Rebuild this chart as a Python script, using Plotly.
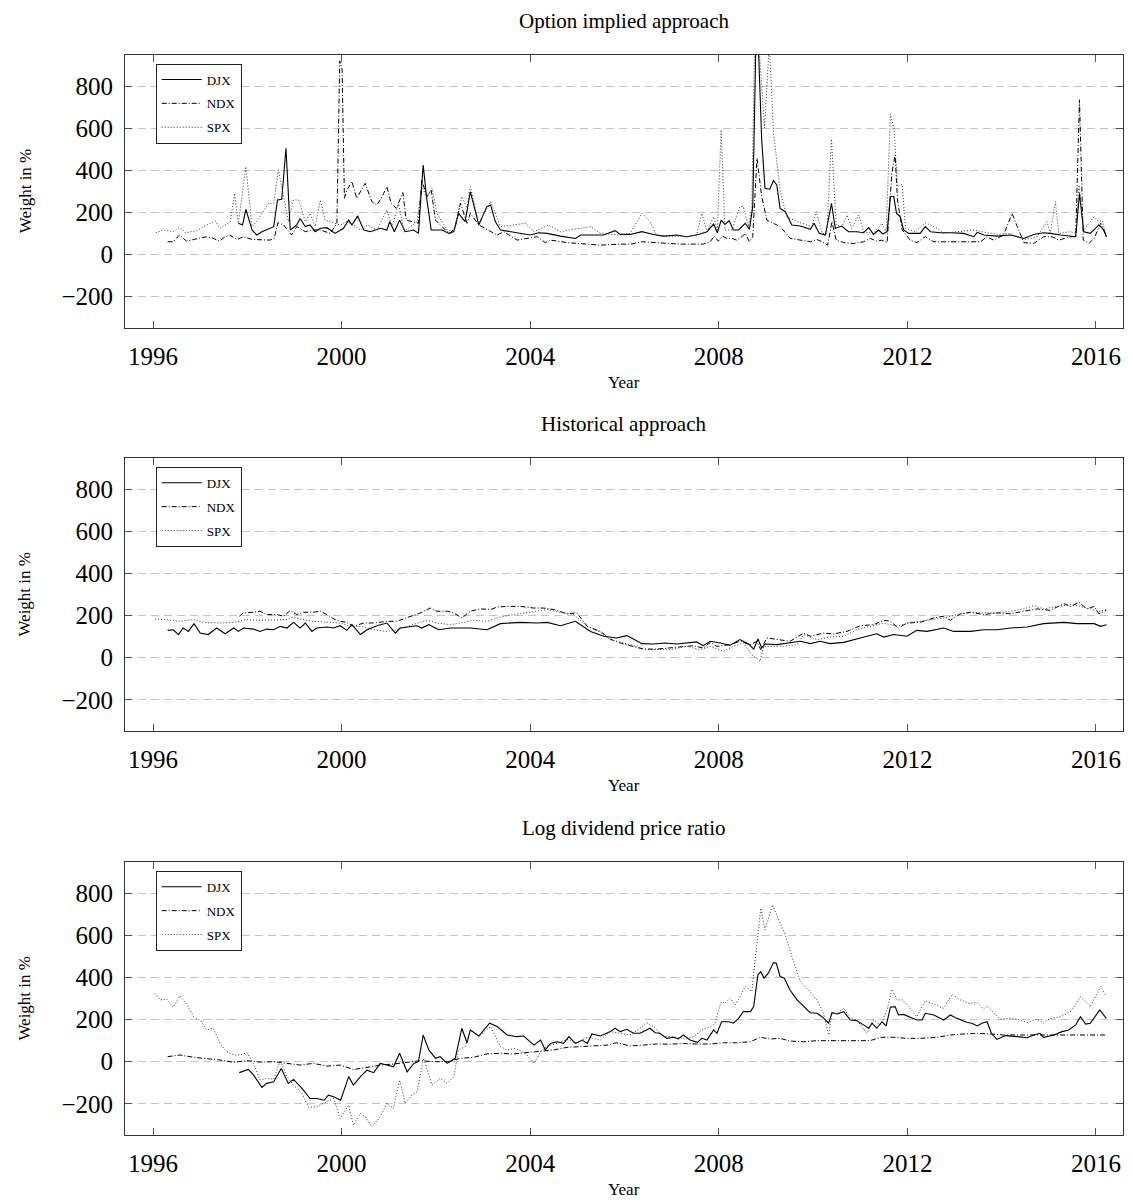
import plotly.graph_objects as go

# ---------------- DATA ----------------
YEAR_TICKS = [1996, 2000, 2004, 2008, 2012, 2016]
WEIGHT_TICKS = [-200, 0, 200, 400, 600, 800]
PANEL_TITLES = ["Option implied approach", "Historical approach", "Log dividend price ratio"]
SERIES_NAMES = ["DJX", "NDX", "SPX"]

# Option implied approach
OI_DJX_YEAR = [1997.81,1997.90,1997.97,1998.10,1998.20,1998.31,1998.56,1998.64,1998.73,1998.82,
    1998.91,1999.05,1999.12,1999.23,1999.33,1999.44,1999.55,1999.69,1999.86,2000.04,
    2000.15,2000.22,2000.34,2000.47,2000.61,2000.82,2000.96,2001.02,2001.12,2001.23,
    2001.35,2001.53,2001.63,2001.73,2001.80,2001.90,2002.13,2002.27,2002.38,2002.48,
    2002.62,2002.73,2002.91,2003.08,2003.16,2003.26,2003.37,2003.58,2003.79,2004.00,
    2004.18,2004.36,2004.64,2004.96,2005.07,2005.35,2005.56,2005.80,2005.91,2006.12,
    2006.37,2006.61,2006.83,2007.11,2007.32,2007.57,2007.75,2007.89,2007.97,2008.05,
    2008.13,2008.22,2008.31,2008.42,2008.56,2008.65,2008.72,2008.79,2008.83,2008.91,
    2008.98,2009.08,2009.16,2009.23,2009.30,2009.41,2009.55,2009.73,2009.94,2010.02,
    2010.13,2010.26,2010.39,2010.47,2010.61,2010.75,2010.93,2011.07,2011.18,2011.28,
    2011.39,2011.48,2011.57,2011.64,2011.71,2011.77,2011.85,2011.92,2012.03,2012.27,
    2012.38,2012.49,2012.70,2012.91,2013.19,2013.41,2013.48,2013.62,2013.90,2014.19,
    2014.47,2014.68,2014.89,2015.03,2015.25,2015.57,2015.65,2015.74,2015.88,2016.06,
    2016.17,2016.22]
OI_DJX_VAL = [148,140,214,116,92,108,132,259,262,505,
    116,140,171,132,140,108,124,127,100,124,
    163,140,183,116,108,124,116,156,108,163,
    108,116,100,425,275,116,116,100,108,195,
    156,298,140,227,235,156,116,108,100,92,
    103,100,87,76,92,92,92,113,95,95,
    108,95,87,92,84,95,108,144,103,163,
    143,160,116,116,148,119,227,1050,1050,544,
    314,310,351,330,219,203,140,135,119,148,
    100,92,243,124,135,108,108,103,127,95,
    116,97,108,275,275,195,179,116,100,100,
    132,108,103,103,100,84,105,92,87,92,
    76,95,103,100,92,84,290,108,100,140,
    116,84]

OI_NDX_YEAR = [1996.31,1996.43,1996.56,1996.71,1996.86,1997.00,1997.14,1997.25,1997.41,1997.53,
    1997.63,1997.78,1997.92,1998.10,1998.31,1998.48,1998.57,1998.65,1998.77,1998.94,
    1999.05,1999.23,1999.40,1999.55,1999.76,1999.90,1999.96,2000.01,2000.06,2000.11,
    2000.22,2000.32,2000.50,2000.64,2000.75,2000.86,2000.96,2001.05,2001.16,2001.30,
    2001.37,2001.53,2001.63,2001.70,2001.81,2001.90,2001.99,2002.20,2002.31,2002.41,
    2002.52,2002.66,2002.73,2002.91,2003.30,2003.44,2003.72,2003.93,2004.15,2004.32,
    2004.43,2004.78,2005.21,2005.49,2005.91,2006.12,2006.37,2006.61,2006.90,2007.18,
    2007.46,2007.67,2007.82,2007.90,2007.99,2008.08,2008.17,2008.28,2008.38,2008.49,
    2008.56,2008.65,2008.72,2008.81,2008.91,2009.02,2009.16,2009.30,2009.52,2009.73,
    2009.94,2010.08,2010.19,2010.31,2010.40,2010.49,2010.65,2010.86,2011.07,2011.21,
    2011.35,2011.46,2011.57,2011.67,2011.74,2011.79,2011.89,2012.06,2012.20,2012.38,
    2012.56,2012.77,2013.05,2013.34,2013.55,2013.69,2013.83,2014.04,2014.22,2014.33,
    2014.47,2014.68,2014.89,2015.07,2015.21,2015.46,2015.57,2015.65,2015.73,2015.85,
    2015.96,2016.10,2016.22]
OI_NDX_VAL = [60,60,92,63,71,76,84,79,63,84,
    92,71,84,71,68,68,76,151,140,92,
    132,108,116,116,100,148,920,880,267,306,
    346,267,338,251,235,275,322,243,219,294,
    163,156,148,354,275,306,163,116,100,132,
    243,148,195,140,92,108,68,76,84,56,
    68,56,49,44,49,48,60,57,52,49,
    49,49,60,87,63,87,76,76,68,84,
    100,60,84,457,275,163,148,132,76,68,
    60,71,60,44,156,68,56,52,60,76,
    63,68,56,386,473,259,116,68,56,84,
    60,60,60,63,60,84,68,92,195,132,
    56,52,84,84,68,84,84,735,68,52,
    76,148,84]

OI_SPX_YEAR = [1996.06,1996.22,1996.43,1996.57,1996.68,1996.93,1997.07,1997.32,1997.42,1997.64,
    1997.73,1997.81,1997.97,1998.10,1998.20,1998.31,1998.45,1998.56,1998.66,1998.77,
    1998.87,1998.98,1999.09,1999.23,1999.33,1999.44,1999.55,1999.65,1999.83,1999.97,
    2000.11,2000.25,2000.40,2000.54,2000.75,2000.96,2001.07,2001.21,2001.32,2001.46,
    2001.60,2001.70,2001.81,2001.92,2002.02,2002.24,2002.38,2002.55,2002.66,2002.73,
    2002.91,2003.16,2003.37,2003.65,2003.90,2004.08,2004.39,2004.64,2004.82,2005.28,
    2005.49,2005.91,2006.12,2006.37,2006.54,2006.68,2006.90,2007.11,2007.32,2007.53,
    2007.64,2007.75,2007.89,2007.97,2008.05,2008.13,2008.28,2008.45,2008.52,2008.63,
    2008.70,2008.76,2008.85,2008.97,2009.07,2009.16,2009.30,2009.44,2009.66,2009.87,
    2009.97,2010.07,2010.19,2010.29,2010.39,2010.49,2010.61,2010.72,2010.82,2010.97,
    2011.07,2011.28,2011.46,2011.55,2011.64,2011.72,2011.79,2011.89,2011.96,2012.17,
    2012.38,2012.63,2012.77,2013.05,2013.41,2013.69,2013.97,2014.19,2014.47,2014.75,
    2014.96,2015.03,2015.14,2015.21,2015.46,2015.57,2015.64,2015.74,2015.96,2016.06,
    2016.13,2016.22]
OI_SPX_VAL = [103,116,108,129,103,113,132,159,124,156,
    290,148,417,132,156,195,243,243,402,275,
    156,259,259,156,195,132,259,163,148,140,
    156,140,116,140,116,211,132,243,108,132,
    156,322,275,314,195,116,108,275,219,322,
    148,251,132,140,148,108,140,108,116,132,
    100,92,100,195,156,92,84,84,84,92,
    195,108,179,116,592,116,116,227,227,132,
    227,1000,1000,600,1000,580,306,179,156,140,
    132,203,100,100,548,140,132,187,124,187,
    108,100,148,108,668,592,322,333,124,108,
    151,124,100,108,116,103,95,100,68,84,
    156,100,251,100,108,100,330,116,179,156,
    163,84]

# Historical approach
H_DJX_YEAR = [1996.31,1996.43,1996.54,1996.64,1996.75,1996.87,1997.00,1997.17,1997.35,1997.53,
    1997.71,1997.81,1997.92,1998.13,1998.27,1998.41,1998.56,1998.70,1998.84,1998.98,
    1999.12,1999.23,1999.37,1999.47,1999.69,1999.83,1999.97,2000.11,2000.22,2000.40,
    2000.54,2000.75,2000.96,2001.14,2001.24,2001.46,2001.60,2001.70,2001.85,2002.06,
    2002.31,2002.73,2003.08,2003.37,2003.79,2004.15,2004.36,2004.64,2004.96,2005.28,
    2005.56,2005.83,2006.05,2006.19,2006.37,2006.61,2006.86,2007.11,2007.32,2007.53,
    2007.67,2007.82,2008.03,2008.24,2008.45,2008.63,2008.74,2008.83,2008.91,2008.98,
    2009.23,2009.51,2009.73,2009.94,2010.15,2010.36,2010.65,2011.00,2011.35,2011.50,
    2011.71,2011.99,2012.20,2012.42,2012.77,2012.98,2013.34,2013.62,2013.90,2014.19,
    2014.54,2014.89,2015.32,2015.60,2015.96,2016.10,2016.22]
H_DJX_VAL = [130,133,110,141,125,162,117,110,141,114,
    141,125,141,136,125,136,133,149,141,168,
    141,165,125,141,146,141,152,130,157,110,
    133,152,165,117,141,146,152,141,157,133,
    141,141,133,162,168,165,168,152,173,125,
    102,94,105,89,67,65,70,65,70,75,
    57,78,70,59,86,65,41,89,46,65,
    62,70,78,67,78,67,73,94,114,98,
    110,102,130,125,141,125,125,133,133,141,
    146,162,168,162,162,149,157]

H_NDX_YEAR = [1997.83,1997.92,1998.13,1998.27,1998.41,1998.63,1998.77,1998.91,1999.05,1999.19,
    1999.40,1999.55,1999.69,1999.86,1999.97,2000.11,2000.25,2000.47,2000.68,2000.96,
    2001.17,2001.39,2001.67,2001.88,2002.02,2002.24,2002.38,2002.55,2002.73,2002.94,
    2003.16,2003.30,2003.51,2003.79,2004.08,2004.29,2004.50,2004.78,2004.99,2005.21,
    2005.49,2005.69,2005.91,2006.12,2006.40,2006.68,2006.97,2007.18,2007.46,2007.67,
    2007.82,2007.96,2008.24,2008.45,2008.67,2008.81,2008.89,2009.02,2009.23,2009.51,
    2009.80,2009.94,2010.22,2010.43,2010.72,2011.00,2011.28,2011.50,2011.64,2011.81,
    2011.99,2012.27,2012.56,2012.77,2012.91,2013.12,2013.34,2013.62,2013.90,2014.19,
    2014.47,2014.75,2015.03,2015.32,2015.46,2015.64,2015.81,2015.96,2016.06,2016.22]
H_NDX_VAL = [197,213,216,221,205,205,197,225,205,216,
    216,221,205,181,173,168,149,165,165,173,
    173,192,213,236,221,221,213,189,221,232,
    229,241,244,244,236,236,229,209,213,149,
    125,89,70,57,41,41,46,51,57,46,
    73,54,62,78,62,78,38,94,86,78,
    117,102,117,113,125,152,157,178,173,141,
    165,168,189,197,178,208,216,205,213,209,
    221,232,225,257,244,263,232,244,209,225]

H_SPX_YEAR = [1996.04,1996.29,1996.57,1996.86,1997.07,1997.42,1997.71,1997.99,1998.27,1998.56,
    1998.84,1998.98,1999.12,1999.40,1999.69,1999.97,2000.18,2000.40,2000.68,2000.96,
    2001.17,2001.53,2001.81,2002.02,2002.31,2002.59,2002.80,2003.08,2003.30,2003.51,
    2003.79,2004.08,2004.36,2004.64,2004.92,2005.21,2005.49,2005.69,2005.98,2006.26,
    2006.47,2006.75,2007.04,2007.32,2007.60,2007.82,2008.10,2008.31,2008.52,2008.70,
    2008.88,2008.95,2009.09,2009.37,2009.66,2009.80,2010.08,2010.36,2010.65,2010.93,
    2011.21,2011.50,2011.78,2012.06,2012.42,2012.77,2013.05,2013.34,2013.62,2013.90,
    2014.19,2014.47,2014.68,2014.89,2015.18,2015.46,2015.67,2015.88,2016.06,2016.22]
H_SPX_VAL = [184,181,173,181,168,165,168,181,178,178,
    181,194,184,173,168,165,149,149,133,125,
    133,157,178,165,157,168,178,173,189,200,
    209,221,229,216,205,149,121,86,70,54,
    38,38,41,54,38,54,30,54,70,14,
    -17,54,54,54,62,110,86,98,102,133,
    149,165,149,168,178,189,205,216,213,213,
    221,232,248,232,244,252,244,232,221,229]

# Log dividend price ratio
L_DJX_YEAR = [1997.83,1998.02,1998.13,1998.31,1998.41,1998.56,1998.72,1998.87,1998.98,1999.16,
    1999.33,1999.47,1999.63,1999.72,1999.83,1999.98,2000.15,2000.25,2000.40,2000.54,
    2000.68,2000.82,2000.96,2001.10,2001.23,2001.39,2001.53,2001.63,2001.73,2001.85,
    2001.99,2002.09,2002.24,2002.41,2002.55,2002.66,2002.73,2002.91,2003.14,2003.30,
    2003.51,2003.72,2003.86,2004.08,2004.22,2004.32,2004.43,2004.57,2004.71,2004.82,
    2004.96,2005.10,2005.21,2005.31,2005.49,2005.70,2005.80,2005.91,2006.05,2006.19,
    2006.33,2006.54,2006.65,2006.75,2006.90,2007.04,2007.14,2007.25,2007.39,2007.55,
    2007.64,2007.75,2007.89,2007.96,2008.06,2008.21,2008.31,2008.42,2008.52,2008.67,
    2008.74,2008.83,2008.89,2008.96,2009.05,2009.16,2009.22,2009.30,2009.39,2009.51,
    2009.66,2009.80,2009.94,2010.08,2010.19,2010.33,2010.40,2010.51,2010.65,2010.79,
    2010.93,2011.07,2011.18,2011.25,2011.35,2011.46,2011.55,2011.64,2011.74,2011.81,
    2011.92,2012.06,2012.20,2012.31,2012.38,2012.56,2012.77,2012.91,2013.05,2013.27,
    2013.37,2013.48,2013.58,2013.69,2013.78,2013.90,2014.08,2014.33,2014.54,2014.68,
    2014.81,2014.89,2015.11,2015.28,2015.42,2015.57,2015.67,2015.78,2015.88,2016.08,
    2016.22]
L_DJX_VAL = [-52,-37,-63,-122,-103,-95,-32,-103,-84,-127,
    -175,-175,-183,-159,-167,-183,-71,-111,-71,-40,
    -52,-8,-16,-24,40,-48,-8,0,127,56,
    16,24,-8,16,159,90,151,122,183,167,
    127,119,122,79,103,56,87,95,87,119,
    87,103,87,132,122,143,159,143,154,135,
    135,159,138,135,111,116,108,127,103,92,
    111,103,151,135,190,190,183,206,238,238,
    262,413,428,397,421,471,468,405,397,341,
    294,262,233,230,214,183,233,227,238,198,
    195,175,159,183,159,190,170,259,262,222,
    225,211,198,198,230,222,198,222,206,186,
    183,170,183,190,135,106,124,119,114,127,
    135,116,127,143,151,175,214,179,183,246,
    206]

L_NDX_YEAR = [1996.31,1996.57,1996.86,1997.14,1997.42,1997.71,1997.99,1998.27,1998.56,1998.84,
    1999.12,1999.40,1999.69,1999.97,2000.25,2000.54,2000.82,2001.10,2001.39,2001.67,
    2001.95,2002.24,2002.52,2002.80,2003.08,2003.37,2003.65,2003.93,2004.22,2004.50,
    2004.78,2005.07,2005.35,2005.63,2005.83,2006.12,2006.40,2006.68,2006.97,2007.25,
    2007.53,2007.82,2008.10,2008.38,2008.67,2008.88,2009.09,2009.30,2009.51,2009.80,
    2010.08,2010.36,2010.65,2010.93,2011.21,2011.43,2011.71,2011.99,2012.27,2012.63,
    2012.91,2013.19,2013.48,2013.76,2014.04,2014.61,2015.18,2015.74,2016.22]
L_NDX_VAL = [24,32,21,16,8,-3,5,-2,0,-8,
    -16,-8,-21,-16,-37,-27,-16,-11,-3,5,
    0,0,16,21,37,40,37,43,48,56,
    68,71,75,79,90,75,79,84,83,87,
    84,84,90,90,95,116,108,111,98,95,
    100,100,103,100,100,116,116,111,111,116,
    127,132,135,132,127,127,127,127,127]

L_SPX_YEAR = [1996.04,1996.15,1996.29,1996.43,1996.57,1996.71,1996.86,1997.00,1997.14,1997.28,
    1997.42,1997.56,1997.71,1997.85,1997.99,1998.13,1998.27,1998.41,1998.56,1998.70,
    1998.84,1998.98,1999.16,1999.30,1999.47,1999.62,1999.83,1999.97,2000.15,2000.25,
    2000.40,2000.50,2000.64,2000.82,2000.96,2001.10,2001.23,2001.35,2001.49,2001.60,
    2001.74,2001.92,2002.09,2002.24,2002.38,2002.48,2002.62,2002.73,2002.91,2003.16,
    2003.37,2003.51,2003.69,2003.90,2004.08,2004.22,2004.36,2004.57,2004.78,2004.99,
    2005.21,2005.49,2005.70,2005.91,2006.12,2006.29,2006.47,2006.61,2006.83,2007.04,
    2007.25,2007.46,2007.64,2007.82,2007.92,2008.05,2008.13,2008.24,2008.35,2008.45,
    2008.56,2008.70,2008.81,2008.89,2008.98,2009.14,2009.27,2009.41,2009.55,2009.73,
    2009.90,2010.08,2010.22,2010.33,2010.40,2010.51,2010.65,2010.79,2010.93,2011.14,
    2011.28,2011.43,2011.57,2011.67,2011.78,2011.89,2012.03,2012.20,2012.38,2012.56,
    2012.77,2012.95,2013.12,2013.30,2013.48,2013.62,2013.69,2013.97,2014.19,2014.40,
    2014.54,2014.75,2014.89,2015.03,2015.25,2015.46,2015.67,2015.88,2016.10,2016.22]
L_SPX_VAL = [325,294,297,259,313,275,214,198,151,159,
    87,48,32,32,43,-8,-87,-79,-84,8,
    -71,-111,-151,-217,-214,-198,-175,-270,-206,-302,
    -246,-262,-309,-262,-198,-222,-87,-198,-159,-143,
    16,-111,-79,-103,-71,56,71,151,119,167,
    71,56,63,40,-8,48,75,87,106,87,
    116,103,143,135,127,151,186,167,119,119,
    111,119,151,167,183,286,278,302,270,309,
    357,333,548,730,627,746,675,603,500,381,
    341,294,230,127,230,230,254,206,198,135,
    198,175,246,344,294,294,262,214,290,275,
    254,321,294,278,281,249,265,202,206,198,
    186,202,183,206,214,238,309,262,357,309]

PANEL_DATA = [
    [(OI_DJX_YEAR, OI_DJX_VAL), (OI_NDX_YEAR, OI_NDX_VAL), (OI_SPX_YEAR, OI_SPX_VAL)],
    [(H_DJX_YEAR, H_DJX_VAL), (H_NDX_YEAR, H_NDX_VAL), (H_SPX_YEAR, H_SPX_VAL)],
    [(L_DJX_YEAR, L_DJX_VAL), (L_NDX_YEAR, L_NDX_VAL), (L_SPX_YEAR, L_SPX_VAL)],
]

# ---------------- LAYOUT / STYLE ----------------
W, H = 1133, 1202
SERIF = "Liberation Serif, Times New Roman, serif"
LINE_STYLES = [
    dict(color="black", width=1.1, dash="solid"),
    dict(color="black", width=1.0, dash="5px,2px,1px,2px"),
    dict(color="#333333", width=1.0, dash="1px,2px"),
]
PLOT_LEFT, PLOT_RIGHT = 125, 1123
PANEL_TOPS = [55, 458.3, 862.3]
PANEL_HEIGHT = 272.6
X_RANGE = [1995.406, 2016.573]
Y_RANGE = [-348, 948]


def fx(px):
    return px / W


def fy(py):
    return 1 - py / H


fig = go.Figure()
annotations = []
layout = dict(
    width=W, height=H,
    margin=dict(l=0, r=0, t=0, b=0),
    paper_bgcolor="white", plot_bgcolor="white",
    showlegend=True,
    font=dict(family=SERIF, color="black"),
)

for i, (title, series) in enumerate(zip(PANEL_TITLES, PANEL_DATA)):
    n = "" if i == 0 else str(i + 1)
    top = PANEL_TOPS[i]
    bottom = top + PANEL_HEIGHT
    legend_name = "legend" + n
    for j, (name, (xs, ys)) in enumerate(zip(SERIES_NAMES, series)):
        fig.add_trace(go.Scatter(
            x=xs, y=ys, name=name, mode="lines",
            line=LINE_STYLES[j],
            xaxis="x" + n, yaxis="y" + n,
            legend=legend_name, legendgroup=f"{name}{i}",
        ))
    layout["xaxis" + n] = dict(
        domain=[fx(PLOT_LEFT), fx(PLOT_RIGHT)], anchor="y" + n,
        range=X_RANGE, tickvals=YEAR_TICKS, ticktext=[str(t) for t in YEAR_TICKS],
        ticks="inside", ticklen=7, tickcolor="#555555", tickwidth=1,
        showline=True, linecolor="#333333", linewidth=1, mirror="ticks",
        showgrid=False, zeroline=False, automargin=False,
        tickfont=dict(family=SERIF, size=25, color="black"),
        ticklabelstandoff=6,
    )
    layout["yaxis" + n] = dict(
        domain=[fy(bottom), fy(top)], anchor="x" + n,
        range=Y_RANGE, tickvals=WEIGHT_TICKS,
        ticks="inside", ticklen=7, tickcolor="#555555", tickwidth=1,
        showline=True, linecolor="#333333", linewidth=1, mirror="ticks",
        showgrid=True, gridcolor="#c4c4c4", gridwidth=1, griddash="8px,5px",
        zeroline=False, automargin=False,
        tickfont=dict(family=SERIF, size=25, color="black"),
        ticklabelstandoff=6,
    )
    layout[legend_name] = dict(
        x=fx(155.7), y=fy(top + 8.5), xanchor="left", yanchor="top",
        bgcolor="white", bordercolor="#222222", borderwidth=1,
        font=dict(family=SERIF, size=13, color="black"),
        traceorder="grouped", tracegroupgap=4, itemwidth=40,
    )
    annotations.append(dict(
        text=title, x=fx((PLOT_LEFT + PLOT_RIGHT) / 2), y=fy(top - 34),
        xref="paper", yref="paper", xanchor="center", yanchor="middle",
        showarrow=False, font=dict(family=SERIF, size=21, color="black"),
    ))
    annotations.append(dict(
        text="Year", x=fx((PLOT_LEFT + PLOT_RIGHT) / 2), y=fy(bottom + 55),
        xref="paper", yref="paper", xanchor="center", yanchor="middle",
        showarrow=False, font=dict(family=SERIF, size=17, color="black"),
    ))
    annotations.append(dict(
        text="Weight in %", x=fx(25), y=fy((top + bottom) / 2),
        xref="paper", yref="paper", xanchor="center", yanchor="middle",
        textangle=-90, showarrow=False,
        font=dict(family=SERIF, size=17, color="black"),
    ))

layout["annotations"] = annotations
fig.update_layout(**layout)
fig.write_html("out.html")
